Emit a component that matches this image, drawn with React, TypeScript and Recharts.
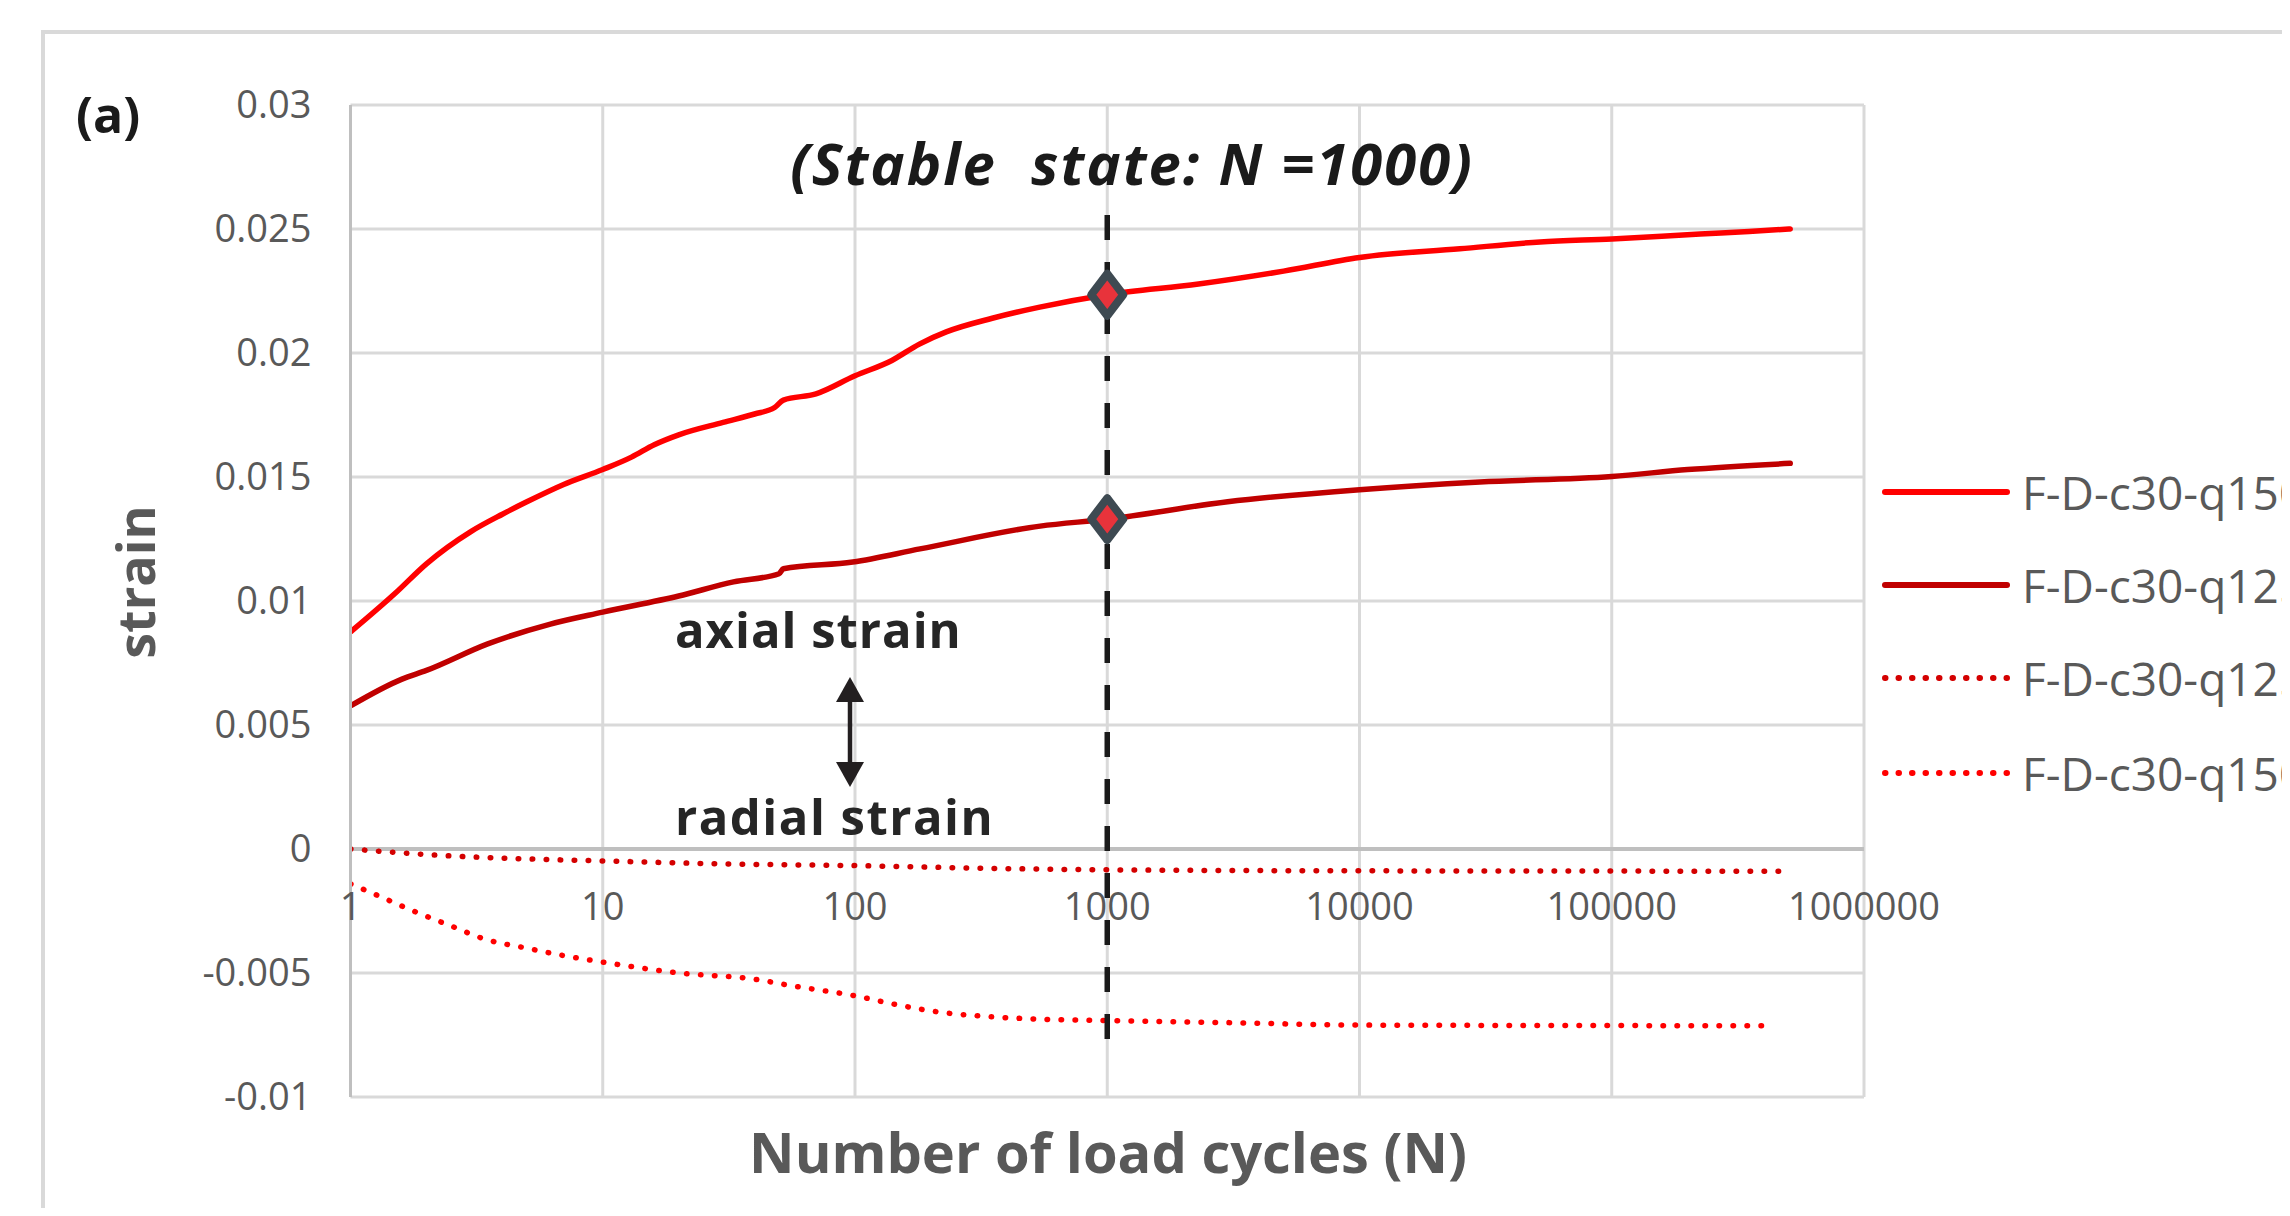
import React from "react";
import {
  CartesianGrid,
  ComposedChart,
  Line,
  ReferenceLine,
  Scatter,
  XAxis,
  YAxis,
} from "recharts";

// ---- data ----
const xTicks = [1, 10, 100, 1000, 10000, 100000, 1000000];
const yTicks = [-0.01, -0.005, 0, 0.005, 0.01, 0.015, 0.02, 0.025, 0.03];

const q150AxialN = [
  1, 1.5, 2, 3, 4, 5, 7, 10, 13, 16, 20, 30, 40, 48, 52, 70, 100, 140, 180,
  230, 350, 540, 1000, 2300, 5000, 10000, 25000, 52000, 100000, 224000, 350000,
  510000,
];
const q150AxialStrain = [
  0.00875, 0.0103, 0.0115, 0.0128, 0.0135, 0.014, 0.0147, 0.0153, 0.0158,
  0.0163, 0.0167, 0.0172, 0.01754, 0.0178, 0.0181, 0.01835, 0.01908, 0.0197,
  0.02036, 0.02085, 0.0214, 0.02185, 0.02235, 0.02278, 0.0233, 0.02385, 0.0242,
  0.02448, 0.0246, 0.0248, 0.0249, 0.025,
];

const q125AxialN = [
  1, 1.6, 2, 3.5, 6.2, 10, 20, 33, 50, 52, 98, 181, 542, 1000, 3000, 10000,
  30000, 100000, 200000, 510000,
];
const q125AxialStrain = [
  0.00577, 0.00685, 0.0072, 0.00827, 0.00907, 0.00955, 0.0102, 0.01077, 0.0111,
  0.0113, 0.01157, 0.0121, 0.01302, 0.0133, 0.014, 0.01449, 0.0148, 0.01502,
  0.0153, 0.01555,
];

const q125RadialN = [1, 2.4, 5, 10, 30, 100, 300, 1000, 10000, 100000, 470000];
const q125RadialStrain = [
  0, -0.00027, -0.0004, -0.00048, -0.0006, -0.00067, -0.00077, -0.00084,
  -0.00088, -0.00089, -0.0009,
];

const q150RadialN = [
  1, 1.3, 1.7, 2.5, 3.4, 5, 7, 10, 20, 40, 55, 100, 150, 217, 300, 500, 1000,
  3000, 10000, 100000, 400000,
];
const q150RadialStrain = [
  -0.00141, -0.0019, -0.00242, -0.0031, -0.00363, -0.004, -0.0043, -0.00456,
  -0.005, -0.00525, -0.0055, -0.00592, -0.0063, -0.00658, -0.00672, -0.00685,
  -0.00692, -0.007, -0.0071, -0.00712, -0.00713,
];

const stableN = [1000, 1000];
const stableStrain = [0.02235, 0.0133];

const zip = (ns: number[], vs: number[]) =>
  ns.map((n, i) => ({ n, strain: vs[i] }));

const SERIES = [
  { key: "q150a", name: "F-D-c30-q150 axial", color: "#ff0000", dotted: false, data: zip(q150AxialN, q150AxialStrain) },
  { key: "q125a", name: "F-D-c30-q125 axial", color: "#c00000", dotted: false, data: zip(q125AxialN, q125AxialStrain) },
  { key: "q125r", name: "F-D-c30-q125 radial", color: "#d40000", dotted: true, data: zip(q125RadialN, q125RadialStrain) },
  { key: "q150r", name: "F-D-c30-q150 radial", color: "#ff0000", dotted: true, data: zip(q150RadialN, q150RadialStrain) },
];

const stableData = zip(stableN, stableStrain);

// ---- layout ----
const W = 2290;
const H = 1216;
const FONT = "'Open Sans', 'DejaVu Sans', sans-serif";
const GREY_TEXT = "#595959";
const GRID = "#d9d9d9";
const X_LABEL_LIFT = 177; // x tick labels sit just under the zero line

const XTick = (props: any) => {
  const { x, y, payload } = props;
  return (
    <text
      x={x}
      y={y - X_LABEL_LIFT}
      textAnchor="middle"
      fill={GREY_TEXT}
      fontSize={38}
      fontFamily={FONT}
    >
      {String(payload.value)}
    </text>
  );
};

const Diamond = (props: any) => {
  const { cx, cy } = props;
  if (cx == null || cy == null) return null;
  return (
    <polygon
      points={`${cx},${cy - 21} ${cx + 16},${cy} ${cx},${cy + 21} ${cx - 16},${cy}`}
      fill="#e8333b"
      stroke="#3e4a52"
      strokeWidth={8}
      strokeLinejoin="round"
    />
  );
};

export default function App() {
  return (
    <div
      style={{
        margin: -8,
        position: "relative",
        width: W,
        height: H,
        overflow: "hidden",
        background: "#fff",
        fontFamily: FONT,
      }}
    >
      {/* outer frame, only top/left visible in the crop */}
      <div
        style={{
          position: "absolute",
          left: 41,
          top: 30,
          width: 2400,
          height: 1400,
          border: `4px solid ${GRID}`,
        }}
      />

      <div style={{ position: "absolute", left: 0, top: 0 }}>
        <ComposedChart
          width={2000}
          height={H}
          margin={{ top: 105, right: 136, left: 250.5, bottom: 89 }}
        >
          <CartesianGrid stroke={GRID} strokeWidth={3} />
          <XAxis
            type="number"
            dataKey="n"
            scale="log"
            domain={[1, 1000000]}
            ticks={xTicks}
            allowDataOverflow
            height={30}
            axisLine={false}
            tickLine={false}
            tickSize={0}
            tickMargin={0}
            tick={<XTick />}
            interval={0}
          />
          <YAxis
            type="number"
            domain={[-0.01, 0.03]}
            ticks={yTicks}
            width={100}
            interval={0}
            allowDataOverflow
            tickLine={false}
            tickSize={0}
            tickMargin={39}
            axisLine={{ stroke: "#bfbfbf", strokeWidth: 3 }}
            tickFormatter={(v: number) => String(v)}
            tick={{ fill: GREY_TEXT, fontSize: 38, fontFamily: FONT }}
          />
          <ReferenceLine y={0} stroke="#bfbfbf" strokeWidth={4} />
          {SERIES.map((s) => (
            <Line
              key={s.key}
              data={s.data}
              dataKey="strain"
              name={s.name}
              type="monotone"
              stroke={s.color}
              strokeWidth={5.5}
              strokeDasharray={s.dotted ? "0.5 13.5" : undefined}
              strokeLinecap="round"
              dot={false}
              activeDot={false}
              isAnimationActive={false}
            />
          ))}
          <ReferenceLine
            segment={[
              { x: 1000, y: 0.02556 },
              { x: 1000, y: -0.0081 },
            ]}
            stroke="#1a1a1a"
            strokeWidth={5.5}
            strokeDasharray="25 22"
          />
          <Scatter
            data={stableData}
            dataKey="strain"
            shape={Diamond}
            isAnimationActive={false}
          />
        </ComposedChart>
      </div>

      {/* annotations */}
      <svg
        width={W}
        height={H}
        style={{ position: "absolute", left: 0, top: 0, pointerEvents: "none" }}
      >
        <text x={76} y={133} fontSize={50} fontWeight={700} fill="#1a1a1a" fontFamily={FONT}>
          (a)
        </text>
        <text
          x={1132}
          y={185}
          textAnchor="middle"
          fontSize={58}
          fontWeight={700}
          fontStyle="italic"
          letterSpacing={2}
          fill="#1a1a1a"
          fontFamily={FONT}
          style={{ whiteSpace: "pre" }}
        >
          (Stable  state: N =1000)
        </text>
        <text x={675} y={648} fontSize={49} fontWeight={700} letterSpacing={1} fill="#262626" fontFamily={FONT}>
          axial strain
        </text>
        <text x={675} y={835} fontSize={49} fontWeight={700} letterSpacing={1.5} fill="#262626" fontFamily={FONT}>
          radial strain
        </text>
        <g fill="#231f20" stroke="#231f20">
          <line x1={850} y1={698} x2={850} y2={766} strokeWidth={4.5} />
          <polygon points="850,677 836,702 864,702" stroke="none" />
          <polygon points="850,787 836,762 864,762" stroke="none" />
        </g>
        <text
          x={134}
          y={582}
          transform="rotate(-90 134 582)"
          textAnchor="middle"
          dominantBaseline="central"
          fontSize={52}
          fontWeight={700}
          fill={GREY_TEXT}
          fontFamily={FONT}
        >
          strain
        </text>
        <text
          x={1108}
          y={1173}
          textAnchor="middle"
          fontSize={56}
          fontWeight={700}
          fill={GREY_TEXT}
          fontFamily={FONT}
        >
          Number of load cycles (N)
        </text>
      </svg>

      {/* legend (cut off at the right edge like the reference) */}
      {SERIES.map((s, i) => (
        <div
          key={s.key}
          style={{
            position: "absolute",
            left: 1882,
            top: [492, 585, 678, 773][i] - 30,
            height: 60,
            display: "flex",
            alignItems: "center",
            whiteSpace: "nowrap",
          }}
        >
          <svg width={130} height={12}>
            <line
              x1={3}
              y1={6}
              x2={125}
              y2={6}
              stroke={s.color}
              strokeWidth={6}
              strokeLinecap="round"
              strokeDasharray={s.dotted ? "0.5 13" : undefined}
            />
          </svg>
          <span
            style={{
              marginLeft: 10,
              fontSize: 46,
              color: GREY_TEXT,
              fontFamily: FONT,
              lineHeight: 1,
            }}
          >
            {s.name}
          </span>
        </div>
      ))}
    </div>
  );
}
